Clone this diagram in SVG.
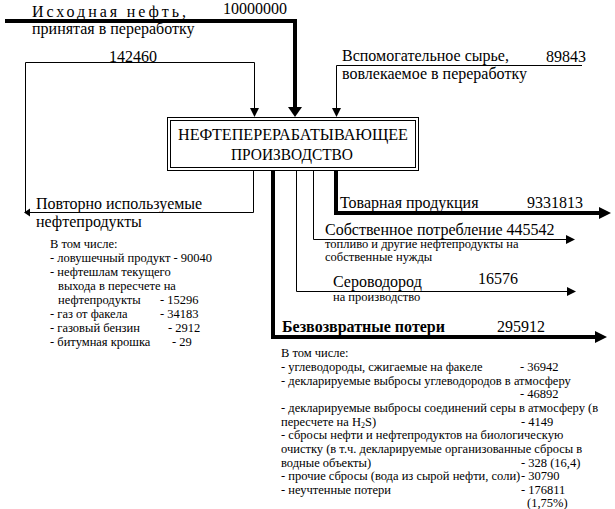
<svg xmlns="http://www.w3.org/2000/svg" width="615" height="509" viewBox="0 0 615 509">
<rect width="615" height="509" fill="#fff"/>
<g id="connectors">
  <g fill="none" stroke="#000" stroke-width="4">
    <path d="M5,21 H295 V108"/>
    <path d="M336,171 V213 H600"/>
    <path d="M273,171 V337 H596"/>
  </g>
  <g fill="none" stroke="#000" stroke-width="1">
    <path d="M253.5,171 V212.5 H29"/>
    <path d="M25.5,212 V62.5 H254.5 V109"/>
    <path d="M582,65.5 H336.5 V109"/>
    <path d="M313.5,171 V239.5 H567"/>
    <path d="M296.5,171 V291.5 H568"/>
  </g>
  <g fill="#000" stroke="none">
    <polygon points="288,107 302,107 295,117"/>
    <polygon points="24,212.5 30,208.5 30,216.5"/>
    <polygon points="250,108 259,108 254.5,117"/>
    <polygon points="332,108 341,108 336.5,117"/>
    <polygon points="599,207 611,213 599,219"/>
    <polygon points="566,235 575,239.5 566,244"/>
    <polygon points="567,287 576,291.5 567,296"/>
    <polygon points="595,331 607,337 595,343"/>
  </g>
</g>
<g id="node-main">
  <rect x="167.5" y="117.5" width="251" height="53" fill="#fff" stroke="#000"/>
  <rect x="170.5" y="120.5" width="245" height="47" fill="none" stroke="#000"/>
  <text x="178" y="140" font-family="Liberation Serif" font-size="16" textLength="230" lengthAdjust="spacingAndGlyphs">НЕФТЕПЕРЕРАБАТЫВАЮЩЕЕ</text>
  <text x="231" y="160" font-family="Liberation Serif" font-size="16" textLength="122" lengthAdjust="spacingAndGlyphs">ПРОИЗВОДСТВО</text>
</g>
<g id="node-input">
  <text x="32" y="17" font-family="Liberation Serif" font-size="16" textLength="154" lengthAdjust="spacing">Исходная нефть,</text>
  <text x="223" y="14" font-family="Liberation Serif" font-size="16">10000000</text>
  <text x="32" y="34" font-family="Liberation Serif" font-size="16">принятая в переработку</text>
</g>
<g id="node-recycle-value">
  <text x="109" y="62" font-family="Liberation Serif" font-size="16">142460</text>
</g>
<g id="node-aux">
  <text x="342" y="61" font-family="Liberation Serif" font-size="16">Вспомогательное сырье,</text>
  <text x="546" y="62" font-family="Liberation Serif" font-size="16">89843</text>
  <text x="342" y="79" font-family="Liberation Serif" font-size="16">вовлекаемое в переработку</text>
</g>
<g id="node-recycle">
  <text x="36" y="209" font-family="Liberation Serif" font-size="16">Повторно используемые</text>
  <text x="36" y="227" font-family="Liberation Serif" font-size="16">нефтепродукты</text>
  <text x="50" y="248" font-family="Liberation Serif" font-size="12.5">В том числе:</text>
  <text x="50" y="262" font-family="Liberation Serif" font-size="12.5">- ловушечный продукт - 90040</text>
  <text x="50" y="276" font-family="Liberation Serif" font-size="12.5">- нефтешлам  текущего</text>
  <text x="58" y="290" font-family="Liberation Serif" font-size="12.5">выхода в пересчете на</text>
  <text x="58" y="304" font-family="Liberation Serif" font-size="12.5">нефтепродукты</text>
  <text x="160" y="304" font-family="Liberation Serif" font-size="12.5">- 15296</text>
  <text x="50" y="318" font-family="Liberation Serif" font-size="12.5">- газ от факела</text>
  <text x="160" y="318" font-family="Liberation Serif" font-size="12.5">- 34183</text>
  <text x="50" y="332" font-family="Liberation Serif" font-size="12.5">- газовый бензин</text>
  <text x="168" y="332" font-family="Liberation Serif" font-size="12.5">- 2912</text>
  <text x="50" y="346" font-family="Liberation Serif" font-size="12.5">- битумная крошка</text>
  <text x="172" y="346" font-family="Liberation Serif" font-size="12.5">- 29</text>
</g>
<g id="node-commercial">
  <text x="340" y="208" font-family="Liberation Serif" font-size="16">Товарная продукция</text>
  <text x="527" y="208" font-family="Liberation Serif" font-size="16">9331813</text>
</g>
<g id="node-own">
  <text x="325" y="235" font-family="Liberation Serif" font-size="16">Собственное потребление 445542</text>
  <text x="325" y="248" font-family="Liberation Serif" font-size="12.5">топливо и другие нефтепродукты на</text>
  <text x="325" y="261" font-family="Liberation Serif" font-size="12.5">собственные нужды</text>
</g>
<g id="node-h2s">
  <text x="333" y="287" font-family="Liberation Serif" font-size="16">Сероводород</text>
  <text x="478" y="284" font-family="Liberation Serif" font-size="16">16576</text>
  <text x="333" y="301" font-family="Liberation Serif" font-size="12.5">на производство</text>
</g>
<g id="node-losses">
  <text x="282" y="332" font-family="Liberation Serif" font-size="16" font-weight="bold">Безвозвратные потери</text>
  <text x="497" y="332" font-family="Liberation Serif" font-size="16">295912</text>
  <text x="281" y="357" font-family="Liberation Serif" font-size="12.5">В том числе:</text>
  <text x="281" y="371" font-family="Liberation Serif" font-size="12.5">- углеводороды, сжигаемые на факеле</text>
  <text x="520" y="371" font-family="Liberation Serif" font-size="12.5">- 36942</text>
  <text x="281" y="384.5" font-family="Liberation Serif" font-size="12.5">- декларируемые выбросы углеводородов в атмосферу</text>
  <text x="520" y="398" font-family="Liberation Serif" font-size="12.5">- 46892</text>
  <text x="281" y="412" font-family="Liberation Serif" font-size="12.5">- декларируемые выбросы соединений серы в атмосферу (в</text>
  <text x="281" y="425.5" font-family="Liberation Serif" font-size="12.5">пересчете на H<tspan font-size="8" dy="2">2</tspan><tspan dy="-2">S)</tspan></text>
  <text x="521" y="425.5" font-family="Liberation Serif" font-size="12.5">- 4149</text>
  <text x="281" y="439" font-family="Liberation Serif" font-size="12.5">- сбросы нефти и нефтепродуктов на биологическую</text>
  <text x="281" y="453" font-family="Liberation Serif" font-size="12.5">очистку (в т.ч. декларируемые организованные сбросы в</text>
  <text x="281" y="466.5" font-family="Liberation Serif" font-size="12.5">водные объекты)</text>
  <text x="521" y="466.5" font-family="Liberation Serif" font-size="12.5">- 328 (16,4)</text>
  <text x="281" y="480" font-family="Liberation Serif" font-size="12.5">- прочие сбросы (вода из сырой нефти, соли)</text>
  <text x="521" y="480" font-family="Liberation Serif" font-size="12.5">- 30790</text>
  <text x="281" y="494" font-family="Liberation Serif" font-size="12.5">- неучтенные потери</text>
  <text x="521" y="494" font-family="Liberation Serif" font-size="12.5">- 176811</text>
  <text x="527" y="507" font-family="Liberation Serif" font-size="12.5">(1,75%)</text>
</g>
</svg>
